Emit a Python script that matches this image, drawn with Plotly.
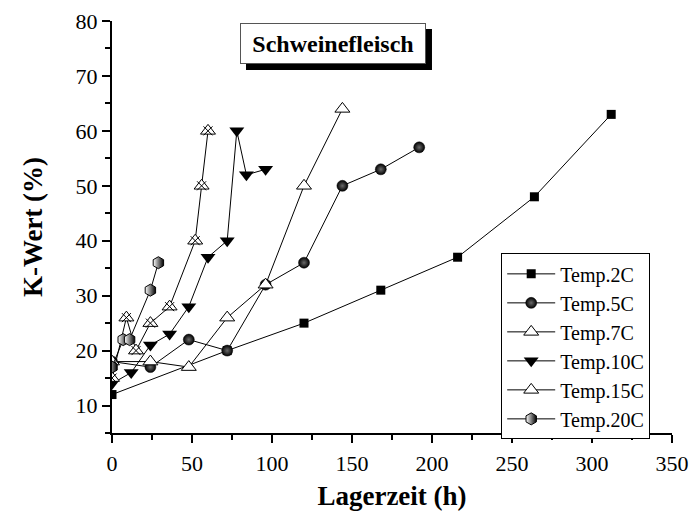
import plotly.graph_objects as go

# ---- data (hours, K-value %) ----
t_2c = [0, 72, 120, 168, 216, 264, 312]
k_2c = [12, 20, 25, 31, 37, 48, 63]

t_5c = [0, 24, 48, 72, 96, 120, 144, 168, 192]
k_5c = [18, 17, 22, 20, 32, 36, 50, 53, 57]

t_7c = [0, 24, 48, 72, 96, 120, 144]
k_7c = [18, 18, 17, 26, 32, 50, 64]

t_10c = [0, 12, 24, 36, 48, 60, 72, 78, 84, 96]
k_10c = [14, 16, 21, 23, 28, 37, 40, 60, 52, 53]

t_15c = [0, 9, 15, 24, 36, 52, 56, 60]
k_15c = [15, 26, 20, 25, 28, 40, 50, 60]

t_20c = [0, 7, 11, 24, 29]
k_20c = [17, 22, 22, 31, 36]

names = ["Temp.2C", "Temp.5C", "Temp.7C", "Temp.10C", "Temp.15C", "Temp.20C"]
title_text = "Schweinefleisch"
x_title = "Lagerzeit (h)"
y_title = "K-Wert (%)"

FONT = "'Liberation Serif', 'Times New Roman', Times, 'DejaVu Serif', serif"
line = dict(color="black", width=1)

fig = go.Figure()

fig.add_trace(go.Scatter(x=t_2c, y=k_2c, name=names[0], mode="lines+markers", line=line,
                         marker=dict(symbol="square", size=9, color="black")))
fig.add_trace(go.Scatter(x=t_5c, y=k_5c, name=names[1], mode="lines+markers", line=line,
                         marker=dict(symbol="circle", size=11, color="black",
                                     gradient=dict(type="radial", color="#6a6a6a"),
                                     line=dict(color="black", width=0.5))))
fig.add_trace(go.Scatter(x=t_7c, y=k_7c, name=names[2], mode="lines+markers", line=line,
                         marker=dict(symbol="triangle-up", size=13, color="white",
                                     line=dict(color="black", width=1))))
fig.add_trace(go.Scatter(x=t_10c, y=k_10c, name=names[3], mode="lines+markers", line=line,
                         marker=dict(symbol="triangle-down", size=13, color="black")))
fig.add_trace(go.Scatter(x=t_15c, y=k_15c, name=names[4], mode="lines+markers", line=line,
                         legendgroup="15",
                         marker=dict(symbol="triangle-up", size=13, color="white",
                                     line=dict(color="black", width=1))))
fig.add_trace(go.Scatter(x=t_15c, y=k_15c, name=names[4], mode="markers", showlegend=False,
                         legendgroup="15",
                         marker=dict(symbol="x-thin-open", size=9, color="black",
                                     line=dict(color="black", width=1))))
fig.add_trace(go.Scatter(x=t_20c, y=k_20c, name=names[5], mode="lines+markers", line=line,
                         marker=dict(symbol="hexagon", size=12, color="white",
                                     gradient=dict(type="horizontal", color="black"),
                                     line=dict(color="black", width=1))))

axis_common = dict(showline=True, linecolor="black", linewidth=2, ticks="outside",
                   tickcolor="black", tickwidth=2, ticklen=8, showgrid=False, zeroline=False,
                   tickfont=dict(family=FONT, size=22, color="black"), mirror=False,
                   automargin=False)

fig.update_xaxes(range=[0, 350], dtick=50, tick0=0, ticklabelstandoff=2,
                 minor=dict(ticks="outside", dtick=25, ticklen=5, tickwidth=2, tickcolor="black"),
                 title=dict(text=x_title, font=dict(family=FONT, size=27, color="black", weight="bold"),
                            standoff=20),
                 **axis_common)
fig.update_yaxes(range=[5, 80], dtick=10, tick0=0,
                 minor=dict(ticks="outside", dtick=5, tick0=0, ticklen=5, tickwidth=2, tickcolor="black"),
                 title=dict(text=y_title, font=dict(family=FONT, size=27, color="black", weight="bold"),
                            standoff=25),
                 **axis_common)

# Title box with drop shadow (shadow offset 6 px right/down)
fig.add_shape(type="rect", xref="paper", yref="paper",
              x0=0.2393, x1=0.5714, y0=0.881, y1=0.9806,
              fillcolor="black", line=dict(width=0), layer="above")
fig.add_annotation(xref="paper", yref="paper", x=0.3946, y=0.9454, xanchor="center", yanchor="middle",
                   text="<b>" + title_text + "</b>", showarrow=False,
                   font=dict(family=FONT, size=24, color="black"),
                   width=184, height=39, borderpad=0, bgcolor="white",
                   bordercolor="#555555", borderwidth=1)

fig.update_layout(
    width=690, height=511,
    margin=dict(l=112, r=18, t=21, b=78, autoexpand=False),
    paper_bgcolor="white", plot_bgcolor="white",
    font=dict(family=FONT, color="black"),
    legend=dict(x=0.695, y=0.436, xanchor="left", yanchor="top",
                bordercolor="black", borderwidth=1, bgcolor="white",
                font=dict(family=FONT, size=20, color="black"),
                itemwidth=48, tracegroupgap=0),
)

fig.write_html("out.html")
